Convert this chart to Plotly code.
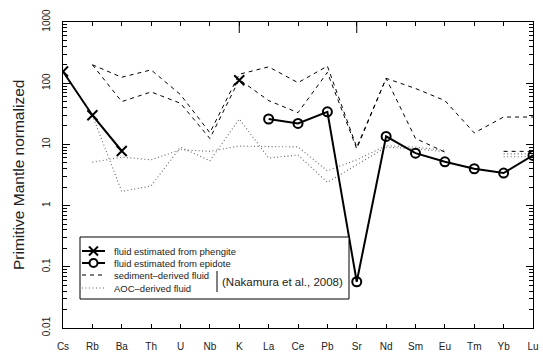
import plotly.graph_objects as go

elements = ["Cs", "Rb", "Ba", "Th", "U", "Nb", "K", "La", "Ce", "Pb",
            "Sr", "Nd", "Sm", "Eu", "Tm", "Yb", "Lu"]
phengite = [155, 30, 7.8, None, None, None, 112, None, None, None,
            None, None, None, None, None, None, None]
epidote = [None, None, None, None, None, None, None, 26, 22, 34,
           0.057, 13.5, 7.2, 5.2, 4.0, 3.4, 6.6]
sediment_a = [None, 200, 125, 165, 65, 15.5, 140, 185, 102, 190,
              9.0, 120, 82, 52, 15.4, 28, 28]
sediment_b = [None, 200, 50, 72, 47, 12.5, 115, 52, 33, 150,
              8.5, 120, 12.5, 7.5, None, 7.7, 7.7]
aoc_a = [None, 5.1, 6.2, 5.6, 8.2, 7.7, 9.4, 9.2, 9.1, 3.7,
         5.6, 9.5, 9.0, 8.0, None, 7.0, 7.0]
aoc_b = [None, 30, 1.7, 2.1, 9.0, 5.4, 26, 6.0, 6.7, 2.4,
         4.6, 9.0, 8.5, 7.6, None, 6.3, 6.3]
ytick_vals = [0.01, 0.1, 1, 10, 100, 1000]
ytick_text = ["0.01", "0.1", "1", "10", "100", "1000"]
minor_vals = [k * 10 ** e for e in range(-2, 3) for k in range(2, 10)]
long_top_ticks = ["K", "Sr"]

legend_labels = ["fluid estimated from phengite", "fluid estimated from epidote",
                 "sediment\u2013derived fluid", "AOC\u2013derived fluid"]
citation = "(Nakamura et al., 2008)"

xs = list(range(len(elements)))
FONT = "Liberation Sans, Arial, Helvetica, sans-serif"
DASH = "4px,4px"
DOT = "1px,2.5px"
GREY = "#666666"

W, H = 543, 352
ML, MR, MT, MB = 63, 10, 22, 24
PW, PH = W - ML - MR, H - MT - MB


def px(x):
    return (x - ML) / PW


def py(y):
    return (H - MB - y) / PH


fig = go.Figure()
for ser in (sediment_a, sediment_b):
    fig.add_trace(go.Scatter(x=xs, y=ser, mode="lines",
                             line=dict(color="black", width=1, dash=DASH)))
for ser in (aoc_a, aoc_b):
    fig.add_trace(go.Scatter(x=xs, y=ser, mode="lines",
                             line=dict(color=GREY, width=1.1, dash=DOT)))
fig.add_trace(go.Scatter(x=xs, y=phengite, mode="lines+markers",
                         line=dict(color="black", width=2),
                         marker=dict(symbol="x-thin-open", size=10, color="black",
                                     line=dict(color="black", width=2))))
fig.add_trace(go.Scatter(x=xs, y=epidote, mode="lines+markers",
                         line=dict(color="black", width=2),
                         marker=dict(symbol="circle-open", size=9, color="black",
                                     line=dict(color="black", width=2))))

# ---- legend drawn in paper coordinates ----
L_X0, L_X1, L_SX0, L_SX1, L_TX = 80, 349, 82, 105, 112
L_Y0, L_Y1 = 237, 299
L_ROWS = [251, 263, 275, 288]
styles = [dict(color="black", width=2), dict(color="black", width=2),
          dict(color="black", width=1, dash=DASH), dict(color=GREY, width=1.1, dash=DOT)]
fig.add_shape(type="rect", xref="paper", yref="paper", x0=px(L_X0), x1=px(L_X1),
              y0=py(L_Y1), y1=py(L_Y0), line=dict(color="black", width=1),
              fillcolor="white", layer="above")
for i, st in enumerate(styles):
    fig.add_shape(type="line", xref="paper", yref="paper", x0=px(L_SX0), x1=px(L_SX1),
                  y0=py(L_ROWS[i]), y1=py(L_ROWS[i]), line=st)
cx = px((L_SX0 + L_SX1) / 2)
for (a, b) in [((-4.5, -4.5), (4.5, 4.5)), ((-4.5, 4.5), (4.5, -4.5))]:
    fig.add_shape(type="line", xref="paper", yref="paper", xsizemode="pixel",
                  ysizemode="pixel", xanchor=cx, yanchor=py(L_ROWS[0]),
                  x0=a[0], y0=a[1], x1=b[0], y1=b[1], line=dict(color="black", width=2))
fig.add_shape(type="circle", xref="paper", yref="paper", xsizemode="pixel",
              ysizemode="pixel", xanchor=cx, yanchor=py(L_ROWS[1]),
              x0=-4, x1=4, y0=-4, y1=4, fillcolor="white",
              line=dict(color="black", width=2))
fig.add_shape(type="line", xref="paper", yref="paper", x0=px(217), x1=px(217),
              y0=py(292), y1=py(271), line=dict(color="black", width=1))
for i, t in enumerate(legend_labels):
    fig.add_annotation(x=px(L_TX), y=py(L_ROWS[i]), xref="paper", yref="paper", text=t,
                       showarrow=False, xanchor="left", yanchor="middle",
                       font=dict(family=FONT, size=9.5, color="#222"))
fig.add_annotation(x=px(220), y=py(282), xref="paper", yref="paper", text=citation,
                   showarrow=False, xanchor="left", yanchor="middle",
                   font=dict(family=FONT, size=11.5, color="#222"))

# longer top ticks
for el in long_top_ticks:
    i = elements.index(el)
    fig.add_shape(type="line", xref="x", yref="paper", x0=i, x1=i, y0=1,
                  y1=1 - 11 / PH, line=dict(color="black", width=1))

fig.add_annotation(x=px(18), y=0.5, xref="paper", yref="paper",
                   text="Primitive Mantle normalized", textangle=-90,
                   xanchor="center", yanchor="middle",
                   showarrow=False, font=dict(family=FONT, size=15.5, color="#222"))

fig.update_layout(
    width=W, height=H, showlegend=False,
    margin=dict(l=ML, r=MR, t=MT, b=MB, autoexpand=False),
    plot_bgcolor="white", paper_bgcolor="white",
    font=dict(family=FONT, size=10, color="#222"),
    xaxis=dict(range=[0, 16], tickvals=xs, ticktext=elements, ticks="inside",
               ticklen=4, tickcolor="black", showline=True, linecolor="black",
               linewidth=1, mirror="ticks", showgrid=False, zeroline=False,
               ticklabelstandoff=9, tickfont=dict(size=10)),
    yaxis=dict(type="log", range=[-2, 3], tickvals=ytick_vals, ticktext=ytick_text,
               tickangle=-90, ticks="inside", ticklen=7, tickcolor="black",
               showline=True, linecolor="black", linewidth=1, mirror="ticks",
               showgrid=False, zeroline=False, ticklabelstandoff=8,
               tickfont=dict(size=10),
               minor=dict(tickvals=minor_vals, ticks="inside", ticklen=4,
                          tickcolor="black", showgrid=False)),
)

fig.write_html("out.html", config={"displayModeBar": False},
               post_script="document.body.style.margin='0';")
